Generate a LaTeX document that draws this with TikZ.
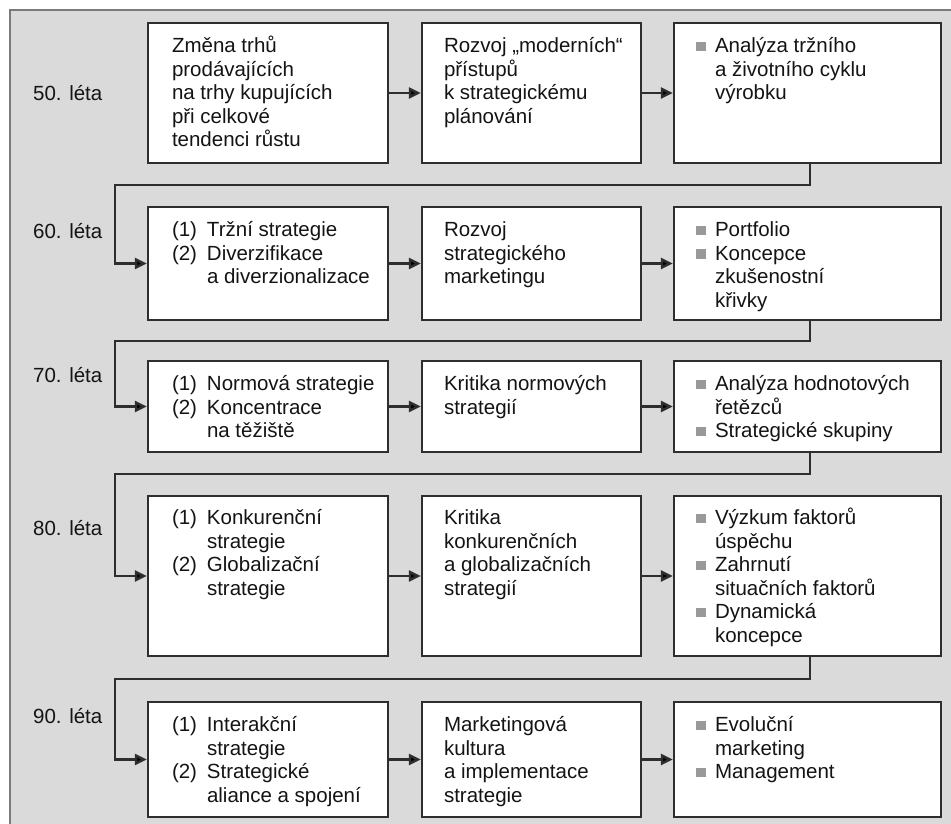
\documentclass[tikz,border=0pt]{standalone}
\usepackage{fontspec}
\setmainfont{Liberation Sans}
\usetikzlibrary{arrows.meta}
\definecolor{bggray}{HTML}{DADADA}
\definecolor{framegray}{HTML}{7A7A7A}
\definecolor{boxline}{HTML}{2E2E2E}
\definecolor{bulgray}{HTML}{999999}
\definecolor{txt}{HTML}{141414}
\newcommand{\bul}{\textcolor{bulgray}{\rule[1.5pt]{9.5pt}{9.5pt}}}
\newcommand{\plain}[1]{\begin{tabular}[t]{@{}l@{}}#1\end{tabular}}
\newcommand{\numl}[1]{\begin{tabular}[t]{@{}p{35pt}@{}l@{}}#1\end{tabular}}
\newcommand{\bull}[1]{\begin{tabular}[t]{@{}p{19pt}@{}l@{}}#1\end{tabular}}
\begin{document}
\begin{tikzpicture}[x=1pt,y=-1pt,
  box/.style={draw=boxline, line width=2.4pt, fill=white, rectangle, inner sep=0pt},
  txtnode/.style={inner sep=0pt, anchor=base west, text=txt, font=\fontsize{20.5}{23.5}\selectfont},
  lbl/.style={inner sep=0pt, anchor=base west, text=txt, font=\fontsize{20.5}{23.5}\selectfont},
  conn/.style={draw=boxline, line width=2.4pt},
  arr/.style={conn, -{Triangle[length=12pt,width=11pt,fill=black]}}]
\useasboundingbox (0,0) rectangle (951,823);
\clip (0,0) rectangle (951,823);
\fill[white] (0,0) rectangle (951,823);
\draw[draw=framegray, line width=2.4pt, fill=bggray] (10,10) rectangle (970,840);

% rows: centre y and height
% columns: A 268/240, B 531.5/219, C 807.5/267
\foreach \r/\y/\h in {1/93/140, 2/263.5/113, 3/406.5/91, 4/576/160, 5/759.5/115}{
  \node[box, minimum width=240pt, minimum height=\h pt] (a\r) at (268,\y) {};
  \node[box, minimum width=219pt, minimum height=\h pt] (b\r) at (531.5,\y) {};
  \node[box, minimum width=267pt, minimum height=\h pt] (c\r) at (807.5,\y) {};
}

% labels
\node[lbl] (l1) at (33,100) {50. léta};
\node[lbl] (l2) at (33,238) {60. léta};
\node[lbl] (l3) at (33,382) {70. léta};
\node[lbl] (l4) at (33,535) {80. léta};
\node[lbl] (l5) at (33,723) {90. léta};

% row 1
\node[txtnode] (ta1) at ([shift={(25,31)}]a1.north west) {\plain{Změna trhů\\prodávajících\\na trhy kupujících\\při celkové\\tendenci růstu}};
\node[txtnode] (tb1) at ([shift={(23,31)}]b1.north west) {\plain{Rozvoj „moderních“\\přístupů\\k strategickému\\plánování}};
\node[txtnode] (tc1) at ([shift={(23,31)}]c1.north west) {\bull{\bul & Analýza tržního\\ & a životního cyklu\\ & výrobku}};

% row 2
\node[txtnode] (ta2) at ([shift={(25,31)}]a2.north west) {\numl{(1) & Tržní strategie\\(2) & Diverzifikace\\ & a diverzionalizace}};
\node[txtnode] (tb2) at ([shift={(23,31)}]b2.north west) {\plain{Rozvoj\\strategického\\marketingu}};
\node[txtnode] (tc2) at ([shift={(23,31)}]c2.north west) {\bull{\bul & Portfolio\\\bul & Koncepce\\ & zkušenostní\\ & křivky}};

% row 3
\node[txtnode] (ta3) at ([shift={(25,31)}]a3.north west) {\numl{(1) & Normová strategie\\(2) & Koncentrace\\ & na těžiště}};
\node[txtnode] (tb3) at ([shift={(23,31)}]b3.north west) {\plain{Kritika normových\\strategií}};
\node[txtnode] (tc3) at ([shift={(23,31)}]c3.north west) {\bull{\bul & Analýza hodnotových\\ & řetězců\\\bul & Strategické skupiny}};

% row 4
\node[txtnode] (ta4) at ([shift={(25,30)}]a4.north west) {\numl{(1) & Konkurenční\\ & strategie\\(2) & Globalizační\\ & strategie}};
\node[txtnode] (tb4) at ([shift={(23,30)}]b4.north west) {\plain{Kritika\\konkurenčních\\a globalizačních\\strategií}};
\node[txtnode] (tc4) at ([shift={(23,30)}]c4.north west) {\bull{\bul & Výzkum faktorů\\ & úspěchu\\\bul & Zahrnutí\\ & situačních faktorů\\\bul & Dynamická\\ & koncepce}};

% row 5
\node[txtnode] (ta5) at ([shift={(25,31)}]a5.north west) {\numl{(1) & Interakční\\ & strategie\\(2) & Strategické\\ & aliance a spojení}};
\node[txtnode] (tb5) at ([shift={(23,31)}]b5.north west) {\plain{Marketingová\\kultura\\a implementace\\strategie}};
\node[txtnode] (tc5) at ([shift={(23,31)}]c5.north west) {\bull{\bul & Evoluční\\ & marketing\\\bul & Management}};

% horizontal arrows
\foreach \r in {1,...,5}{
  \draw[arr] (a\r.east) -- (b\r.west);
  \draw[arr] (b\r.east) -- (c\r.west);
}

% return connectors
\coordinate (k1) at (115,185);
\coordinate (k2) at (115,341);
\coordinate (k3) at (115,474);
\coordinate (k4) at (115,679);
\draw[arr] ([xshift=2.5pt]c1.south) |- (k1) |- (a2.west);
\draw[arr] ([xshift=2.5pt]c2.south) |- (k2) |- (a3.west);
\draw[arr] ([xshift=2.5pt]c3.south) |- (k3) |- (a4.west);
\draw[arr] ([xshift=2.5pt]c4.south) |- (k4) |- (a5.west);
\end{tikzpicture}
\end{document}
